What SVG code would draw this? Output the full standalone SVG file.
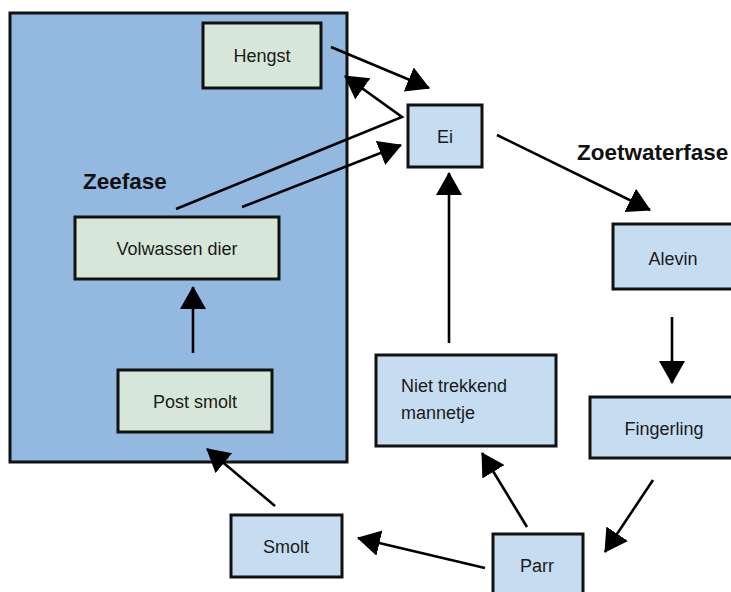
<svg xmlns="http://www.w3.org/2000/svg" width="731" height="592" viewBox="0 0 731 592">
<style>
.sea{fill:#94b9e0;stroke:#111;stroke-width:3}
.g{fill:#d6e7d9;stroke:#111;stroke-width:3}
.b{fill:#c5dcf1;stroke:#111;stroke-width:3}
.t{font-family:"Liberation Sans",Arial,sans-serif;font-size:18px;fill:#1a1a1a;text-anchor:middle}
.tl{font-family:"Liberation Sans",Arial,sans-serif;font-size:18px;fill:#1a1a1a}
.h{font-family:"Liberation Sans",Arial,sans-serif;font-size:22.5px;font-weight:bold;fill:#111}
.c{fill:none;stroke:#000;stroke-width:2.6;marker-end:url(#ah)}
</style>
<defs>
<marker id="ah" markerUnits="userSpaceOnUse" markerWidth="24" markerHeight="28" refX="22" refY="13" orient="auto">
<path d="M0,0 L23,13 L0,26 z" fill="#000"/>
</marker>
</defs>
<rect class="sea" x="10" y="13" width="337" height="449"/>
<text class="h" x="83" y="189">Zeefase</text>
<text class="h" x="577" y="160">Zoetwaterfase</text>
<g id="hengst"><rect class="g" x="203" y="23" width="118" height="65"/><text class="t" x="262" y="62">Hengst</text></g>
<g id="volwassen"><rect class="g" x="75" y="217" width="204" height="62"/><text class="t" x="177" y="255">Volwassen dier</text></g>
<g id="postsmolt"><rect class="g" x="118" y="370" width="154" height="62"/><text class="t" x="195" y="408">Post smolt</text></g>
<g id="ei"><rect class="b" x="408" y="105" width="74" height="62"/><text class="t" x="445" y="143">Ei</text></g>
<g id="alevin"><rect class="b" x="613" y="224" width="130" height="65"/><text class="t" x="673" y="265">Alevin</text></g>
<g id="fingerling"><rect class="b" x="590" y="397" width="150" height="61"/><text class="t" x="664" y="435">Fingerling</text></g>
<g id="parr"><rect class="b" x="493" y="534" width="90" height="70"/><text class="t" x="537" y="572">Parr</text></g>
<g id="niet"><rect class="b" x="376" y="355" width="180" height="91"/><text class="tl" x="401" y="392">Niet trekkend</text><text class="tl" x="401" y="419">mannetje</text></g>
<g id="smolt"><rect class="b" x="231" y="515" width="111" height="62"/><text class="t" x="286" y="553">Smolt</text></g>
<g id="connectors">
<path class="c" d="M331,47 L429,88"/>
<path class="c" d="M176,209 L402,117 L345,76"/>
<path class="c" d="M242,207 L401,145"/>
<path class="c" d="M497,135 L650,210"/>
<path class="c" d="M672,317 L672,383"/>
<path class="c" d="M653,480 L605,552"/>
<path class="c" d="M527,527 L482,453"/>
<path class="c" d="M449,343 L449,173"/>
<path class="c" d="M485,568 L358,538"/>
<path class="c" d="M275,506 L207,449"/>
<path class="c" d="M193,353 L193,287"/>
</g>
</svg>
